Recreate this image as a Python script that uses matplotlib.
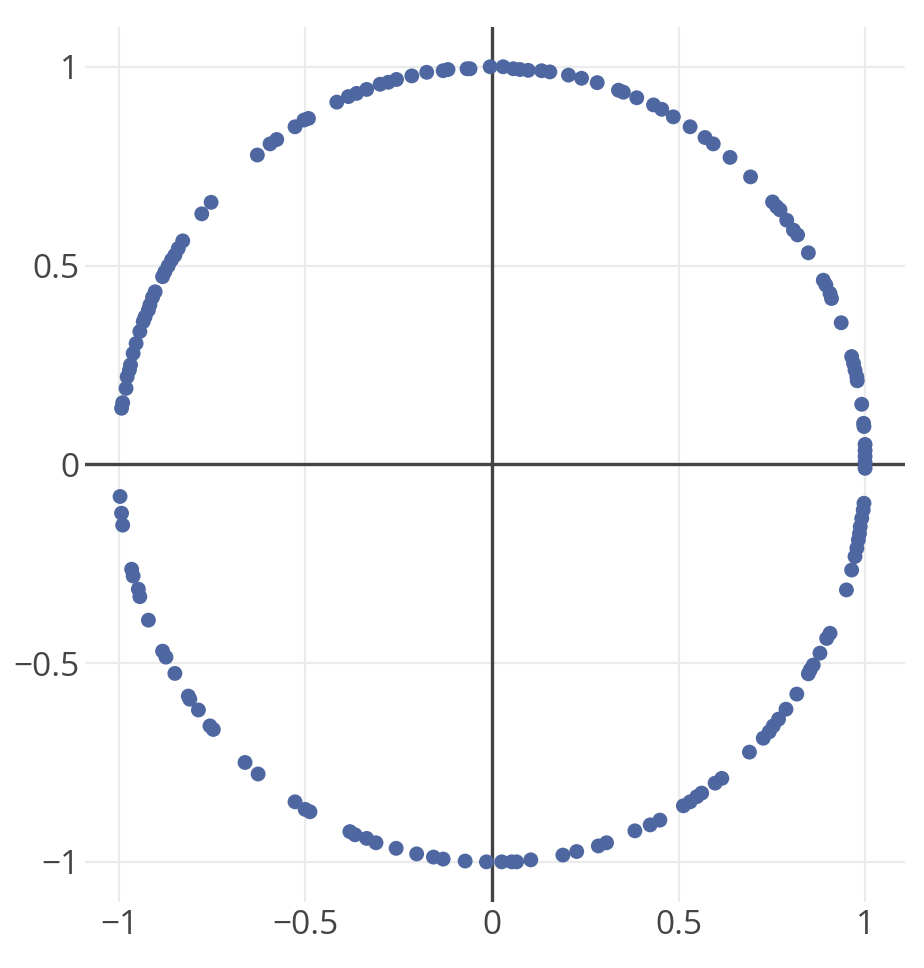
import numpy as np
import matplotlib
matplotlib.use("Agg")
import matplotlib.pyplot as plt

plt.rcParams["font.family"] = ["Open Sans", "DejaVu Sans"]

# --- points, going round the circle -----------------------------------------
x_upper_left = [-0.059, -0.067, -0.118, -0.131, -0.175, -0.215, -0.256, -0.278, -0.300,
                -0.336, -0.363, -0.385, -0.416, -0.492, -0.504, -0.528, -0.577, -0.595,
                -0.629, -0.753, -0.778, -0.829, -0.841, -0.850, -0.859, -0.868, -0.877,
                -0.883, -0.903, -0.910, -0.917, -0.921, -0.930, -0.935, -0.944, -0.954,
                -0.962, -0.969, -0.972, -0.978, -0.981, -0.990, -0.993]
y_upper_left = [0.995, 0.995, 0.993, 0.990, 0.986, 0.977, 0.968, 0.961, 0.956,
                0.943, 0.933, 0.925, 0.911, 0.870, 0.866, 0.849, 0.817, 0.806,
                0.778, 0.659, 0.630, 0.562, 0.543, 0.526, 0.514, 0.499, 0.484,
                0.472, 0.434, 0.420, 0.401, 0.388, 0.371, 0.359, 0.334, 0.304,
                0.279, 0.250, 0.237, 0.220, 0.191, 0.155, 0.141]

x_upper_right = [-0.005, 0.030, 0.057, 0.075, 0.097, 0.133, 0.155, 0.205, 0.240, 0.282,
                 0.339, 0.352, 0.388, 0.433, 0.455, 0.486, 0.531, 0.571, 0.593, 0.638,
                 0.693, 0.752, 0.763, 0.772, 0.790, 0.808, 0.819, 0.848, 0.888, 0.895,
                 0.906, 0.910, 0.936, 0.964, 0.969, 0.973, 0.978, 0.979, 0.991, 0.996,
                 0.997, 1.000, 1.000, 1.000, 1.000, 1.000]
y_upper_right = [1.000, 1.000, 0.995, 0.993, 0.991, 0.990, 0.987, 0.979, 0.971, 0.960,
                 0.941, 0.936, 0.922, 0.904, 0.893, 0.874, 0.849, 0.822, 0.806, 0.772,
                 0.723, 0.660, 0.648, 0.640, 0.614, 0.589, 0.577, 0.532, 0.463, 0.451,
                 0.430, 0.417, 0.356, 0.271, 0.254, 0.237, 0.220, 0.210, 0.151, 0.103,
                 0.095, 0.050, 0.035, 0.020, 0.005, -0.010]

x_lower_right = [0.997, 0.995, 0.991, 0.987, 0.985, 0.982, 0.978, 0.973, 0.964, 0.950,
                 0.906, 0.897, 0.879, 0.861, 0.853, 0.848, 0.817, 0.788, 0.768, 0.754,
                 0.743, 0.727, 0.690, 0.616, 0.598, 0.562, 0.549, 0.531, 0.513, 0.450,
                 0.424, 0.383, 0.307, 0.285, 0.227, 0.190, 0.104, 0.066, 0.053, 0.026]
y_lower_right = [-0.098, -0.115, -0.136, -0.157, -0.174, -0.190, -0.211, -0.232, -0.266, -0.316,
                 -0.425, -0.438, -0.475, -0.505, -0.517, -0.527, -0.578, -0.616, -0.641, -0.658,
                 -0.673, -0.689, -0.724, -0.790, -0.802, -0.827, -0.836, -0.849, -0.859, -0.895,
                 -0.907, -0.922, -0.952, -0.960, -0.974, -0.983, -0.995, -1.000, -1.000, -1.000]

x_lower_left = [-0.015, -0.072, -0.131, -0.157, -0.202, -0.257, -0.311, -0.336, -0.367,
                -0.381, -0.488, -0.501, -0.528, -0.627, -0.662, -0.747, -0.756, -0.787,
                -0.810, -0.814, -0.850, -0.874, -0.883, -0.921, -0.944, -0.948, -0.962,
                -0.966, -0.990, -0.993, -0.997]
y_lower_left = [-1.000, -0.998, -0.993, -0.988, -0.980, -0.966, -0.952, -0.941, -0.932,
                -0.924, -0.874, -0.868, -0.849, -0.779, -0.750, -0.667, -0.658, -0.618,
                -0.591, -0.583, -0.526, -0.485, -0.470, -0.392, -0.333, -0.314, -0.281,
                -0.264, -0.153, -0.123, -0.081]

x_ticks = [-1, -0.5, 0, 0.5, 1]
y_ticks = [-1, -0.5, 0, 0.5, 1]
tick_labels = ["\u22121", "\u22120.5", "0", "0.5", "1"]

xs = np.array(x_upper_left + x_upper_right + x_lower_right + x_lower_left)
ys = np.array(y_upper_left + y_upper_right + y_lower_right + y_lower_left)

W, H = 924, 968
fig = plt.figure(figsize=(W / 100, H / 100), dpi=100)
ax = fig.add_axes([85 / W, 1 - 902 / H, (905 - 85) / W, (902 - 27) / H])

ax.set_xlim(-1.091, 1.107)
ax.set_ylim(-1.101, 1.100)

ax.grid(True, color="#ebebeb", linewidth=1.6)
ax.set_axisbelow(True)
ax.axhline(0, color="#444444", linewidth=2.4, zorder=1)
ax.axvline(0, color="#444444", linewidth=2.4, zorder=1)

ax.scatter(xs, ys, s=115, color="#4f67a1", edgecolors="none", zorder=3)

for s in ax.spines.values():
    s.set_visible(False)
ax.set_xticks(x_ticks)
ax.set_yticks(y_ticks)
ax.set_xticklabels(tick_labels)
ax.set_yticklabels(tick_labels)
ax.tick_params(length=0, labelsize=24, labelcolor="#444444")
ax.tick_params(axis="y", pad=4)
ax.tick_params(axis="x", pad=5)

fig.savefig("out.png", dpi=100)
